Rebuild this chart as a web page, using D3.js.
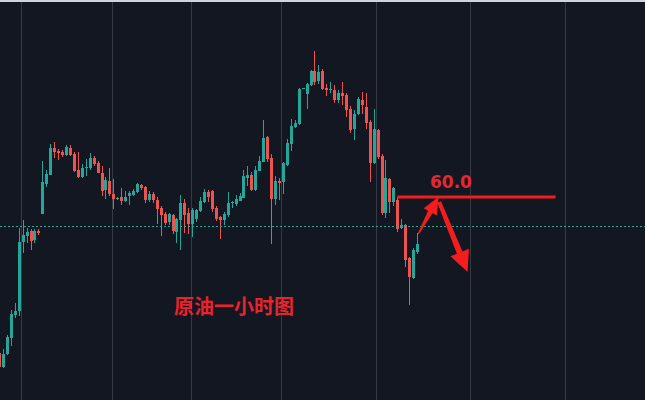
<!DOCTYPE html>
<html>
<head>
<meta charset="utf-8">
<script src="https://cdn.jsdelivr.net/npm/d3@7"></script>
<style>
  html, body { margin: 0; padding: 0; background: #131722; overflow: hidden; }
  svg { display: block; }
</style>
</head>
<body>
<svg id="chart" width="645" height="400"></svg>
<script>
// ---- Data (1-hour crude oil candles) ----
const opens  = [58.47,58.33,58.46,58.62,58.85,58.89,59.58,59.64,59.69,59.60,59.69,59.86,60.16,60.25,60.52,60.49,60.48,60.45,60.52,60.46,60.30,60.23,60.32,60.32,60.42,60.37,60.27,60.10,60.19,60.06,60.01,60.03,59.99,60.04,60.05,60.08,60.15,60.13,60.00,60.06,60.00,59.92,59.86,59.78,59.85,59.68,59.80,59.97,59.87,59.76,59.81,59.89,59.98,60.08,60.09,59.92,59.83,59.80,59.85,59.97,59.96,59.99,60.02,60.22,60.25,60.10,60.29,60.38,60.63,60.42,60.01,60.19,60.18,60.35,60.56,60.73,60.76,61.11,61.06,61.15,61.29,61.19,61.29,61.12,61.10,61.10,61.00,61.07,61.05,60.91,60.71,60.86,61.00,60.93,60.78,60.37,60.70,60.44,59.87,60.21,59.98,60.00,59.72,59.75,59.42,59.22,59.48];
const closes = [58.33,58.46,58.63,58.86,58.89,59.58,59.65,59.68,59.59,59.69,59.67,60.18,60.26,60.52,60.48,60.47,60.45,60.53,60.45,60.29,60.23,60.32,60.33,60.42,60.36,60.27,60.09,60.20,60.06,60.01,60.02,59.99,60.03,60.07,60.09,60.16,60.12,60.00,60.06,60.00,59.91,59.85,59.77,59.86,59.69,59.81,59.97,59.85,59.76,59.90,59.90,59.99,60.08,60.03,59.91,59.81,59.80,59.86,59.97,59.98,60.01,60.04,60.24,60.25,60.10,60.30,60.39,60.62,60.41,60.01,60.19,60.17,60.37,60.57,60.74,60.77,61.11,61.12,61.16,61.29,61.18,61.28,61.11,61.10,61.11,61.00,61.07,61.04,60.90,60.70,60.86,61.01,60.95,60.77,60.37,60.71,60.43,59.87,60.22,59.98,60.12,59.71,59.75,59.40,59.23,59.50,59.56];
const highs  = [58.49,58.51,58.65,58.90,58.97,59.72,59.80,59.72,59.71,59.71,59.71,60.39,60.30,60.56,60.58,60.51,60.50,60.55,60.55,60.48,60.48,60.36,60.41,60.47,60.44,60.39,60.34,60.23,60.32,60.21,60.03,60.12,60.09,60.09,60.11,60.17,60.16,60.14,60.09,60.08,60.03,59.94,59.88,59.87,59.86,59.82,60.05,60.01,59.92,59.92,59.91,60.03,60.11,60.10,60.10,59.94,59.84,59.88,60.08,59.99,60.05,60.07,60.30,60.34,60.28,60.34,60.44,60.80,60.64,60.46,60.24,60.22,60.38,60.61,60.81,60.80,61.12,61.12,61.17,61.30,61.49,61.35,61.31,61.16,61.18,61.15,61.10,61.18,61.07,60.94,60.90,61.03,61.08,61.07,60.80,60.91,60.71,60.46,60.40,60.22,60.13,60.03,59.81,59.76,59.43,59.52,59.67];
const lows   = [58.28,58.32,58.45,58.54,58.82,58.84,59.47,59.57,59.50,59.57,59.65,59.86,60.13,60.25,60.42,60.40,60.43,60.44,60.44,60.28,60.22,60.22,60.24,60.30,60.34,60.27,60.04,60.01,60.04,59.91,60.00,59.95,59.98,59.95,60.04,60.07,60.10,59.97,59.98,59.97,59.76,59.64,59.75,59.75,59.66,59.57,59.50,59.67,59.66,59.63,59.78,59.88,59.97,59.98,59.88,59.79,59.61,59.75,59.83,59.92,59.94,59.99,60.02,60.14,60.09,60.09,60.29,60.38,60.38,59.56,59.95,60.00,60.06,60.34,60.49,60.72,60.75,61.11,60.91,61.14,61.15,61.16,61.10,61.04,61.07,60.97,60.97,60.95,60.83,60.67,60.60,60.85,60.86,60.71,60.18,60.36,60.41,59.85,59.82,59.87,59.94,59.68,59.71,59.33,58.95,59.21,59.46];

// vertical time grid positions (bar index units)
const gridIdx = [5.33, 28.43, 48.48, 71.32, 95.43, 119.3, 143.4];
// last-price (dotted) level
const lastPrice = 59.74;
// annotation: support/resistance level and arrows (index, price)
const levelValue = 60.03;
const levelRange = [100.9, 141.0];
const levelLabel = "60.0";
const arrowUp   = [[106.2, 59.66], [111.3, 60.03]];
const arrowDown = [[111.5, 59.98], [118.7, 59.28]];
const titleText = "原油一小时图";

// ---- Scales ----
const W = 645, H = 400;
const x = d3.scaleLinear().domain([0, opens.length - 1]).range([-0.5, 417.5]);
const y = d3.scaleLinear().domain([58, 62]).range([H, 0]);

const svg = d3.select("#chart");
const UP = "#26a69a", DOWN = "#ef5350", ANNO = "#f41d1d";

svg.append("rect").attr("width", W).attr("height", H).attr("fill", "#131722");
svg.append("rect").attr("width", W).attr("height", 2).attr("fill", "#d1d4dc");

// grid
svg.append("g").selectAll("rect").data(gridIdx).join("rect")
  .attr("x", d => Math.round(x(d)))
  .attr("y", 2).attr("width", 1).attr("height", H - 2)
  .attr("fill", "#363a45");

// candles
const data = opens.map((o, i) => ({ i, o, c: closes[i], h: highs[i], l: lows[i] }));
const g = svg.append("g");
const cg = g.selectAll("g").data(data).join("g");
cg.append("rect")
  .attr("x", d => Math.round(x(d.i) - 1.5) + 1)
  .attr("width", 1)
  .attr("y", d => Math.round(y(d.h)))
  .attr("height", d => Math.max(1, Math.round(y(d.l)) - Math.round(y(d.h))))
  .attr("fill", d => d.c >= d.o ? UP : DOWN);
cg.append("rect")
  .attr("x", d => Math.round(x(d.i) - 1.5))
  .attr("width", 3)
  .attr("y", d => Math.round(y(Math.max(d.o, d.c))))
  .attr("height", d => Math.max(1, Math.round(y(Math.min(d.o, d.c))) - Math.round(y(Math.max(d.o, d.c)))))
  .attr("fill", d => d.c >= d.o ? UP : DOWN);

// last price dotted line
svg.append("line")
  .attr("x1", 0).attr("x2", W)
  .attr("y1", Math.round(y(lastPrice)) + 0.5).attr("y2", Math.round(y(lastPrice)) + 0.5)
  .attr("stroke", UP).attr("stroke-width", 1).attr("stroke-dasharray", "2,2");

// annotation level line
svg.append("line")
  .attr("x1", x(levelRange[0])).attr("x2", x(levelRange[1]))
  .attr("y1", y(levelValue)).attr("y2", y(levelValue))
  .attr("stroke", ANNO).attr("stroke-width", 3);

svg.append("text")
  .attr("x", 430).attr("y", 188)
  .attr("font-family", "DejaVu Sans, sans-serif").attr("font-weight", "bold")
  .attr("font-size", 17).attr("fill", "#e8262e")
  .text(levelLabel);

// arrows
function arrowPath(pts, w0, w1, headLen, headW) {
  const [tx, ty] = [x(pts[0][0]), y(pts[0][1])];
  const [px, py] = [x(pts[1][0]), y(pts[1][1])];
  const dx = px - tx, dy = py - ty, len = Math.hypot(dx, dy);
  const ux = dx / len, uy = dy / len, nx = -uy, ny = ux;
  const bx = px - ux * headLen, by = py - uy * headLen;
  const poly = [
    [tx + nx * w0 / 2, ty + ny * w0 / 2],
    [bx + nx * w1 / 2, by + ny * w1 / 2],
    [bx + nx * headW / 2, by + ny * headW / 2],
    [px, py],
    [bx - nx * headW / 2, by - ny * headW / 2],
    [bx - nx * w1 / 2, by - ny * w1 / 2],
    [tx - nx * w0 / 2, ty - ny * w0 / 2]
  ];
  return d3.line()(poly) + "Z";
}
svg.append("path").attr("d", arrowPath(arrowUp, 1.5, 5, 17, 15)).attr("fill", ANNO);
svg.append("path").attr("d", arrowPath(arrowDown, 4, 6, 21, 20)).attr("fill", ANNO);

// title
svg.append("text")
  .attr("x", 174).attr("y", 314)
  .attr("font-family", "Noto Sans CJK SC, sans-serif").attr("font-weight", "bold")
  .attr("font-size", 20).attr("fill", "#e8232b")
  .text(titleText);
</script>
</body>
</html>
